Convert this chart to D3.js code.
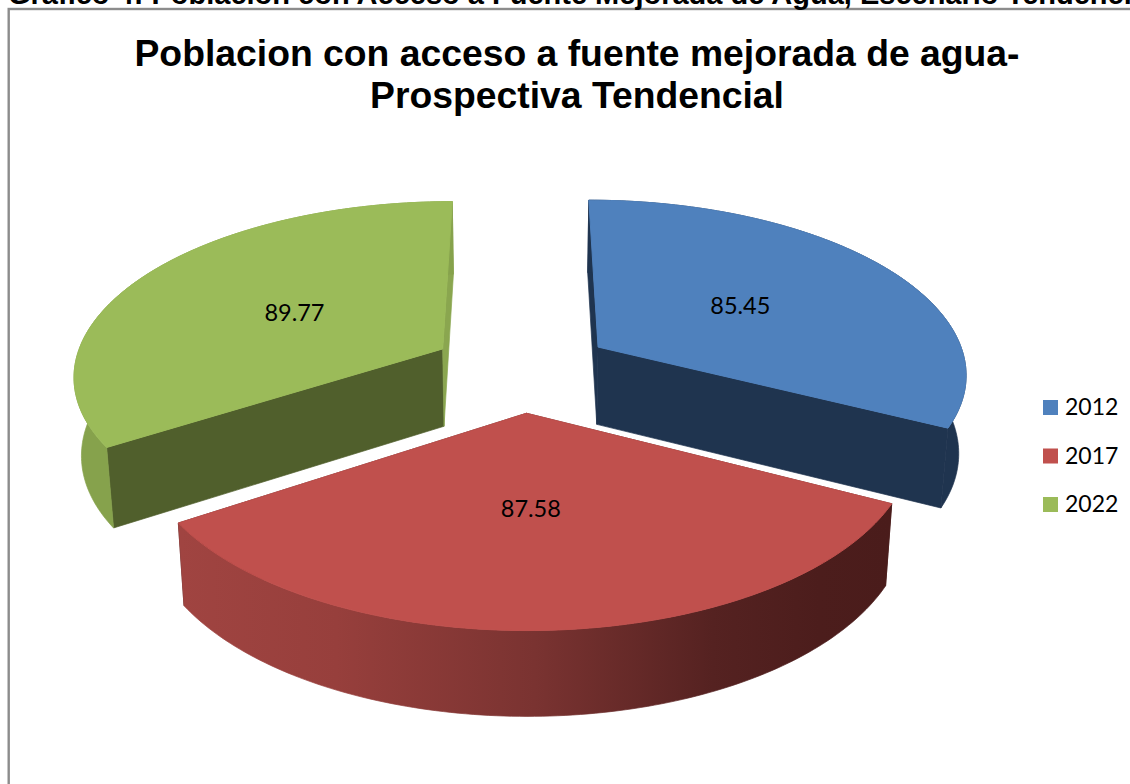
<!DOCTYPE html>
<html><head><meta charset="utf-8">
<script src="https://cdn.jsdelivr.net/npm/d3@7"></script>
<style>html,body{margin:0;padding:0;background:#fff;overflow:hidden}svg{display:block}</style>
</head><body><svg id="c" width="1130" height="784"></svg>
<script>
const categories = ["2012", "2017", "2022"];
const values = [85.45, 87.58, 89.77];
const topColors = ["#4F81BD", "#C0504D", "#9BBB59"];
const startWallColors = ["#1F344F", "#4B1C1A", "#505F2C"];
const endWallColors = ["#1F344F", "#4B1C1A", "#8AA64F"];
const outerColors = ["#1F344F", "url(#redWall)", "#86A24C"];
const labelNudgeX = [4, -6, -5];
const labelNudgeY = [-1, 2, 1];
const titleLines = ["Poblacion con acceso a fuente mejorada de agua-", "Prospectiva Tendencial"];
const pageHeading = "Grafico 4: Poblacion con Acceso a Fuente Mejorada de Agua, Escenario Tendencial";

const svg = d3.select("#c");
const TAU = Math.PI * 2;

// perspective ground plane: R = 1 unit, Y runs away from viewer
const vx = 521.6, planeTop = -868, planeH = 1237, focal = 369.5, persp = 0.14;
const explode = 0.247, depth = 78, converge = 0.0166;
const sc = Y => 1 / (1 + persp * Y);
const project = (X, Y) => { const s = sc(Y); return { x: vx + focal * X * s, y: planeTop + planeH * s, s }; };
const drop = p => ({ x: vx + (p.x - vx) * (1 - converge), y: p.y + depth * Math.sqrt(p.s) });

const slices = d3.pie().sort(null).startAngle(0).endAngle(TAU)(values);
const line = d3.line().x(d => d.x).y(d => d.y);

const defs = svg.append("defs");
const grad = defs.append("linearGradient").attr("id", "redWall").attr("gradientUnits", "userSpaceOnUse")
  .attr("x1", 180).attr("x2", 890).attr("y1", 0).attr("y2", 0);
[[0, "#A04441"], [0.22, "#973F3C"], [0.5, "#7A3331"], [0.75, "#552221"], [0.9, "#4C1D1C"], [1, "#4A1C1B"]]
  .forEach(([o, c]) => grad.append("stop").attr("offset", o).attr("stop-color", c));

svg.append("rect").attr("x", 8.7).attr("y", 9).attr("width", 1140).attr("height", 800)
  .attr("fill", "#fff").attr("stroke", "#8c8c8c").attr("stroke-width", 2.4);

svg.append("text").attr("x", 8).attr("y", 4).attr("font-family", "Liberation Sans").attr("font-weight", "bold")
  .attr("font-size", 29).attr("fill", "#000").text(pageHeading);

const titleY = d3.scalePoint().domain(titleLines).range([66, 108]);
svg.selectAll("text.title").data(titleLines).join("text").attr("class", "title")
  .attr("x", 577).attr("y", d => titleY(d)).attr("text-anchor", "middle")
  .attr("font-family", "Liberation Sans").attr("font-weight", "bold").attr("font-size", 37.3)
  .attr("fill", "#000").text(d => d);

slices.forEach((s, i) => {
  const mid = (s.startAngle + s.endAngle) / 2;
  const ox = explode * Math.sin(mid), oy = explode * Math.cos(mid);
  const pt = (r, a) => project(ox + r * Math.sin(a), oy + r * Math.cos(a));
  const angles = d3.range(0, 121).map(k => s.startAngle + (s.endAngle - s.startAngle) * k / 120);
  const rim = angles.map(a => pt(1, a));
  const apex = pt(0, 0);
  const g = svg.append("g").attr("class", "slice");

  const wall = (a, fill) => {
    const p = pt(1, a);
    g.append("path").attr("d", line([apex, p, drop(p), drop(apex)]) + "Z")
      .attr("fill", fill).attr("stroke", fill).attr("stroke-width", 0.7);
  };
  wall(s.startAngle, startWallColors[i]);
  wall(s.endAngle, endWallColors[i]);
  g.append("path").attr("d", line(rim.concat(rim.map(drop).reverse())) + "Z")
    .attr("fill", outerColors[i]).attr("stroke", outerColors[i]).attr("stroke-width", 0.7);
  g.append("path").attr("d", line([apex, ...rim]) + "Z").attr("fill", topColors[i])
    .attr("stroke", topColors[i]).attr("stroke-width", 1);

  const lp = pt(0.47, mid);
  svg.append("text").datum(s).attr("class", "label").attr("x", lp.x + labelNudgeX[i]).attr("y", lp.y + 8 + labelNudgeY[i])
    .attr("text-anchor", "middle").attr("font-family", "Lato").attr("font-size", 23.5)
    .attr("fill", "#000").text(values[i].toFixed(2));
});
svg.selectAll("text.label").raise();

const legendY = d3.scalePoint().domain(categories).range([400, 497]);
const lg = svg.selectAll("g.lg").data(categories).join("g").attr("class", "lg")
  .attr("transform", d => `translate(1043,${legendY(d)})`);
lg.append("rect").attr("width", 15).attr("height", 15).attr("fill", (d, i) => topColors[i]);
lg.append("text").attr("x", 22).attr("y", 15).attr("font-family", "Lato").attr("font-size", 23)
  .attr("fill", "#000").text(d => d);
</script></body></html>
